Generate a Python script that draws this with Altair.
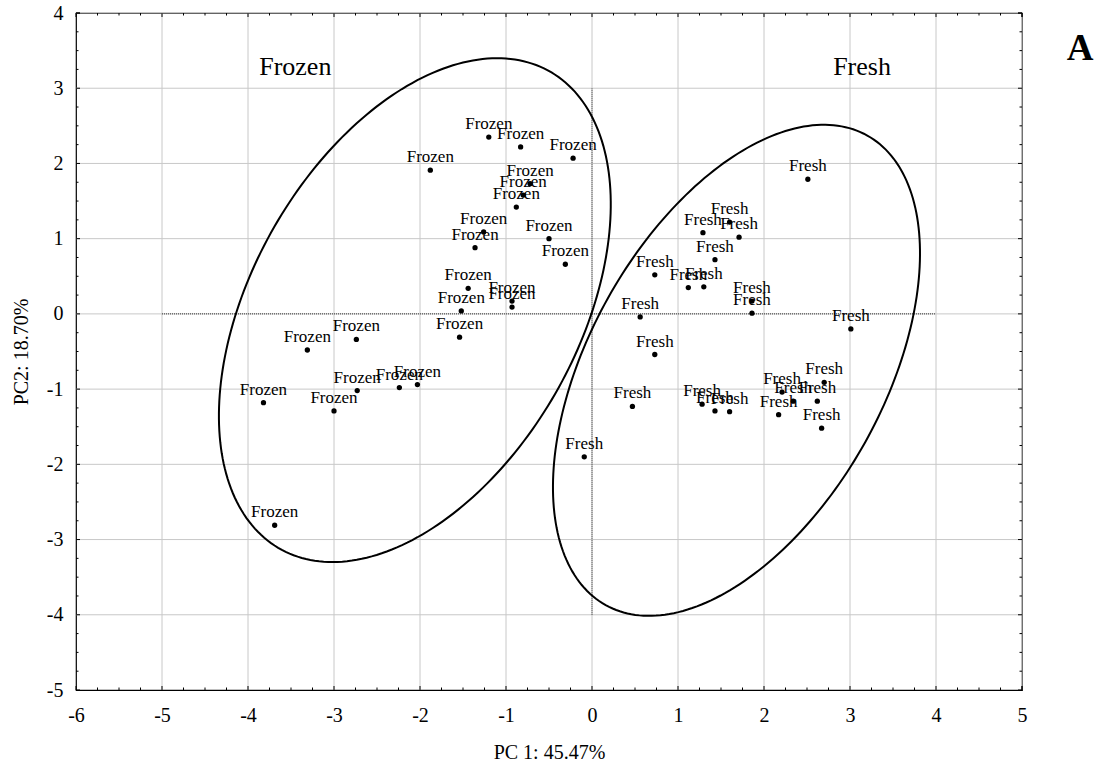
import numpy as np
import pandas as pd
import altair as alt

FONT = "Liberation Serif"

# PCA scores (PC1, PC2) per sample
frozen_pc1 = [-1.20, -0.83, -0.22, -1.88, -0.72, -0.80, -0.88, -1.26, -1.36, -0.50,
              -0.31, -1.44, -0.93, -0.93, -1.52, -1.54, -2.74, -3.31, -2.73, -2.24,
              -2.03, -3.82, -3.00, -3.69]
frozen_pc2 = [2.35, 2.22, 2.07, 1.91, 1.73, 1.58, 1.42, 1.09, 0.88, 1.00,
              0.66, 0.34, 0.17, 0.09, 0.04, -0.31, -0.34, -0.48, -1.02, -0.98,
              -0.94, -1.18, -1.29, -2.81]

fresh_pc1 = [2.51, 1.60, 1.29, 1.71, 1.43, 0.73, 1.12, 1.30, 1.86, 1.86,
             0.56, 3.01, 0.73, 0.47, 1.28, 1.43, 1.60, 2.17, 2.21, 2.34,
             2.70, 2.62, 2.67, -0.09]
fresh_pc2 = [1.79, 1.22, 1.08, 1.02, 0.72, 0.52, 0.35, 0.36, 0.17, 0.01,
             -0.04, -0.20, -0.54, -1.23, -1.20, -1.29, -1.30, -1.34, -1.04, -1.16,
             -0.91, -1.16, -1.52, -1.90]

# group ellipses: centre, semi-axes and tilt of the major axis (degrees)
ellipse_group = ["Frozen", "Fresh"]
ellipse_cx = [-2.06, 1.68]
ellipse_cy = [0.05, -0.75]
ellipse_a = [3.55, 3.48]
ellipse_b = [1.95, 1.76]
ellipse_angle = [66.6, 66.3]

# group captions
caption_text = ["Frozen", "Fresh"]
caption_x = [-3.45, 3.14]
caption_y = [3.17, 3.17]

# axis ranges
x_ticks = list(range(-6, 6))
y_ticks = list(range(-5, 5))

W, H = 946, 677
xs = alt.Scale(domain=[-6, 5], nice=False, zero=False)
ys = alt.Scale(domain=[-5, 4], nice=False, zero=False)

points = pd.DataFrame({
    "pc1": frozen_pc1 + fresh_pc1,
    "pc2": frozen_pc2 + fresh_pc2,
    "label": ["Frozen"] * len(frozen_pc1) + ["Fresh"] * len(fresh_pc1),
})

# ellipse outlines
rows = []
t = np.linspace(0, 2 * np.pi, 241)
for g, cx, cy, a, b, ang in zip(ellipse_group, ellipse_cx, ellipse_cy,
                                ellipse_a, ellipse_b, ellipse_angle):
    th = np.deg2rad(ang)
    ex = cx + a * np.cos(th) * np.cos(t) - b * np.sin(th) * np.sin(t)
    ey = cy + a * np.sin(th) * np.cos(t) + b * np.cos(th) * np.sin(t)
    for i, (u, v) in enumerate(zip(ex, ey)):
        rows.append({"group": g, "i": i, "x": u, "y": v})
ellipses = pd.DataFrame(rows)

# plain hyphen for negative tick labels
neg_label = "datum.value < 0 ? '-' + abs(datum.value) : '' + datum.value"

x_axis = alt.Axis(values=x_ticks, labelExpr=neg_label, grid=False, domain=False,
                  ticks=False, tickSize=0, labelFont=FONT, labelFontSize=20,
                  labelColor="black", labelBaseline="alphabetic", labelPadding=31,
                  labelFlush=False, labelOverlap=False,
                  title="PC 1: 45.47%", titleFont=FONT, titleFontSize=20,
                  titleFontWeight="normal", titleColor="black",
                  titleBaseline="alphabetic", titleY=68)
y_axis = alt.Axis(values=y_ticks, labelExpr=neg_label, grid=False, domain=False,
                  ticks=False, tickSize=0, labelFont=FONT, labelFontSize=20,
                  labelColor="black", labelBaseline="middle", labelPadding=13,
                  labelFlush=False, labelOverlap=False,
                  title="PC2: 18.70%", titleFont=FONT, titleFontSize=20,
                  titleFontWeight="normal", titleColor="black",
                  titleBaseline="alphabetic", titleX=-49)


def X(field):
    return alt.X(field, scale=xs, axis=x_axis)


def Y(field):
    return alt.Y(field, scale=ys, axis=y_axis)


# light grid at interior integers
grid_x = alt.Chart(pd.DataFrame({"v": x_ticks[1:]})).mark_rule(
    color="#c8c8c8", strokeWidth=1).encode(x=X("v:Q"))
grid_y = alt.Chart(pd.DataFrame({"v": y_ticks[1:]})).mark_rule(
    color="#c8c8c8", strokeWidth=1).encode(y=Y("v:Q"))

# dotted origin lines
ref_v = alt.Chart(pd.DataFrame({"x": [0], "y": [-4], "y2": [3]})).mark_rule(
    color="#333333", strokeWidth=1, strokeDash=[1, 1]).encode(
    x=X("x:Q"), y=Y("y:Q"), y2="y2:Q")
ref_h = alt.Chart(pd.DataFrame({"y": [0], "x": [-5], "x2": [4]})).mark_rule(
    color="#333333", strokeWidth=1, strokeDash=[1, 1]).encode(
    y=Y("y:Q"), x=X("x:Q"), x2="x2:Q")

ell = alt.Chart(ellipses).mark_line(color="black", strokeWidth=2).encode(
    x=X("x:Q"), y=Y("y:Q"), detail="group:N", order="i:Q",
)

dots = alt.Chart(points).mark_circle(color="black", opacity=1, size=28).encode(
    x=X("pc1:Q"), y=Y("pc2:Q"),
)

labels = alt.Chart(points).mark_text(
    font=FONT, fontSize=17, color="black", dy=-8, baseline="alphabetic", align="center"
).encode(x=X("pc1:Q"), y=Y("pc2:Q"), text="label:N")

captions = alt.Chart(pd.DataFrame({"t": caption_text, "x": caption_x, "y": caption_y})).mark_text(
    font=FONT, fontSize=26, color="black", baseline="alphabetic", align="center"
).encode(x=X("x:Q"), y=Y("y:Q"), text="t:N")

panel = alt.Chart(pd.DataFrame({"t": ["A"]})).mark_text(
    font=FONT, fontSize=37, fontWeight="bold", color="black",
    baseline="alphabetic", align="center"
).encode(x=alt.value(1004), y=alt.value(47), text="t:N")

# inward ticks on all four sides
major_x = [float(v) for v in x_ticks] + [5.0]
major_y = [float(v) for v in y_ticks] + [4.0]
minor_x = [v for v in np.arange(-6, 5.001, 0.25) if abs(v - round(v)) > 1e-6]
minor_y = [v for v in np.arange(-5, 4.001, 0.25) if abs(v - round(v)) > 1e-6]


def x_ticks_layer(vals, length):
    df = pd.DataFrame({"v": vals})
    base = alt.Chart(df).mark_rule(color="black", strokeWidth=1)
    bottom = base.encode(x=X("v:Q"), y=alt.value(H), y2=alt.value(H - length))
    top = base.encode(x=X("v:Q"), y=alt.value(0), y2=alt.value(length))
    return [bottom, top]


def y_ticks_layer(vals, length):
    df = pd.DataFrame({"v": vals})
    base = alt.Chart(df).mark_rule(color="black", strokeWidth=1)
    left = base.encode(y=Y("v:Q"), x=alt.value(0), x2=alt.value(length))
    right = base.encode(y=Y("v:Q"), x=alt.value(W), x2=alt.value(W - length))
    return [left, right]


tick_layers = (x_ticks_layer(major_x, 4) + x_ticks_layer(minor_x, 2.5)
               + y_ticks_layer(major_y, 4) + y_ticks_layer(minor_y, 2.5))

chart = alt.layer(
    grid_x, grid_y, ref_v, ref_h, ell, dots, labels, captions, panel,
    *tick_layers
).properties(
    width=W, height=H,
    autosize=alt.AutoSizeParams(type="none"),
    padding={"left": 76, "top": 13, "right": 75, "bottom": 77},
    background="white",
).configure_view(stroke="black", strokeWidth=1.2)

chart.save("out.html", embed_options={"renderer": "svg", "actions": False})
